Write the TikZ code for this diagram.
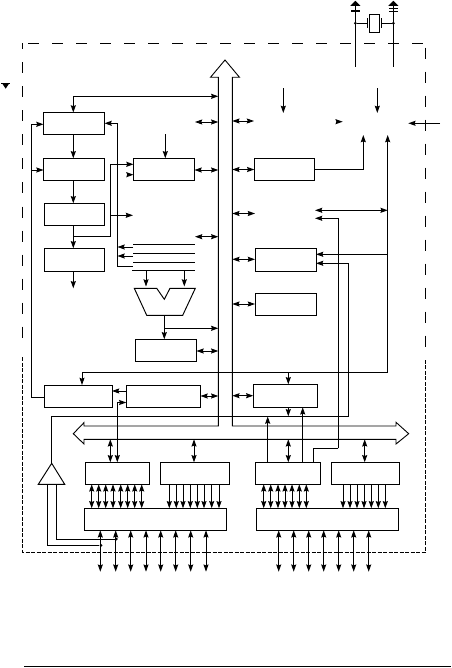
\documentclass[tikz,border=0pt]{standalone}
\usetikzlibrary{arrows.meta}
\newcommand{\bx}[5]{\node[box,minimum width={(#4-#2)*1pt},minimum height={(#5-#3)*1pt}] (#1) at ({(#2+#4)/2},{(#3+#5)/2}) {};}
\tikzset{
  tip/.tip={Stealth[length=7.2pt,width=5pt,inset=0.9pt]},
  box/.style={draw,line width=0.95pt,inner sep=0pt,outer sep=0pt,fill=white},
  wire/.style={line width=0.95pt},
  ar/.style={wire,-tip},
  da/.style={wire,tip-tip},
  frameA/.style={line width=0.85pt,dash pattern=on 11pt off 13pt},
  frameB/.style={line width=0.85pt,dash pattern=on 4pt off 1.5pt},
  bus/.style={line width=0.9pt,line join=miter,fill=white},
  dot/.style={circle,fill=black,inner sep=0pt,minimum size=3pt},
  thick bar/.style={line width=1.5pt}
}
\begin{document}
\begin{tikzpicture}[x=1pt,y=-1pt]
\useasboundingbox (0,0) rectangle (451,668);
\fill[white] (0,0) rectangle (451,668);
% frame
\draw[frameA] (28,43.5) -- (425.5,43.5);
\draw[frameA,dash phase=5pt] (22.5,43.5) -- (22.5,345);
\draw[frameB] (22.5,357) -- (22.5,552) -- (425.5,552) -- (425.5,360);
\draw[frameA] (425.5,47.7) -- (425.5,347);
% bottom rule
\draw[line width=1.6pt] (24,666.5) -- (451,666.5);
% bus
\draw[bus] (218.3,77.3) -- (218.3,426) -- (84,426) -- (84,422.6) -- (73.3,433.7) -- (84,444) -- (84,439.3)
  -- (396,439.3) -- (396,444) -- (408.7,433.7) -- (396,422.3) -- (396,426) -- (232.3,426) -- (232.3,77.3)
  -- (239.5,77.3) -- (225,60) -- (210.5,77.3) -- cycle;
\coordinate (busL) at (218.3,250);
\coordinate (busR) at (232.3,250);
\coordinate (busT) at (300,426);
\coordinate (busB) at (300,439.3);
% boxes
\bx{b1}{43.5}{112.5}{104.5}{134.5}
\bx{b2}{43.5}{158.3}{104}{180.5}
\bx{b3}{44}{203.3}{104.5}{225.5}
\bx{b4}{44}{248.3}{104.5}{271.3}
\bx{b5}{133.5}{158.3}{194.5}{180.7}
\bx{b6}{254.3}{158.3}{314.3}{180.5}
\bx{b7}{255}{248.3}{316}{271.3}
\bx{b8}{255}{293.3}{316}{315.7}
\bx{b9}{135}{339.3}{196.5}{361.3}
\bx{b10}{44.3}{385}{112}{407.3}
\bx{b11}{126.3}{385}{200.5}{407.3}
\bx{b12}{253.3}{384.3}{317.7}{407.3}
\bx{p1}{85}{462.3}{149.3}{484.3}
\bx{p2}{160.3}{462.3}{229}{484.3}
\bx{p3}{255}{462.3}{320.3}{484.3}
\bx{p4}{331}{462.3}{399.3}{484.3}
\bx{d1}{84.3}{508.3}{226.7}{530.3}
\bx{d2}{256.3}{508.3}{398}{530.3}
% triangle
\coordinate (trT) at (51.7,463.3);
\coordinate (trL) at (47.7,484.3);
\coordinate (trR) at (56.7,484.3);
\draw[wire,line join=miter] (trT) -- (64.7,484.3) -- (38.3,484.3) -- cycle;
% ALU
\draw[wire,line join=miter] (134.3,288.3) -- (156.7,288.3) -- (164.3,299.3) -- (170,288.3) -- (195.3,288.3) -- (182.7,315.3) -- (146.7,315.3) -- cycle;
\coordinate (aluB) at (164.3,315.3);
\coordinate (aluA) at (146,286.5);
\coordinate (aluC) at (184.3,286.5);
% register lines
\coordinate (r1l) at (133,244.3); \coordinate (r1r) at (194.7,244.3);
\coordinate (r2l) at (133,253.3); \coordinate (r2r) at (194.7,253.3);
\coordinate (r3l) at (133,262.3); \coordinate (r3r) at (194.7,262.3);
\coordinate (r4l) at (132,270.3); \coordinate (r4r) at (194.7,270.3);
\draw[wire] (r1l) -- (r1r); \draw[wire] (r2l) -- (r2r); \draw[wire] (r3l) -- (r3r); \draw[wire] (r4l) -- (r4r);
\draw[ar] (aluA |- r4l) -- (aluA);
\draw[ar] (aluC |- r4l) -- (aluC);
\draw[ar] (aluB) -- (aluB |- b9.north);
\draw[ar] (164.3,328.3) -- (busL |- 0,328.3);
% left column
\draw[da] (busL |- 0,96.3) -- (73.3,96.3) -- (73.3,0 |- b1.north);
\draw[ar] (73.3,0 |- b1.south) -- (73.3,0 |- b2.north);
\draw[ar] (73.3,0 |- b2.south) -- (73.3,0 |- b3.north);
\draw[ar] (73.3,0 |- b3.south) -- (73.3,0 |- b4.north);
\draw[ar] (73.3,0 |- b4.south) -- (73.3,288.3);
\draw[ar] (73.3,236.3) -- (110.3,236.3) -- (110.3,164.3) -- (b5.west |- 0,164.3);
\draw[ar] (110.3,215.3) -- (133,215.3);
\draw[ar] (127,174.7) -- (b5.west |- 0,174.7);
\draw[ar] (b10.west |- 0,397.3) -- (31.3,397.3) -- (31.3,124.3) -- (b1.west |- 0,124.3);
\draw[ar] (31.3,170) -- (b2.west |- 0,170);
\draw[ar] (132.5,266.3) -- (117.3,266.3) -- (117.3,123.3) -- (b1.east |- 0,123.3);
\draw[ar] (r1l |- 0,247) -- (117.5,247);
\draw[ar] (r1l |- 0,256) -- (117.5,256);
\draw[ar] (165.3,0 |- b1.south) -- (165.3,0 |- b5.north);
% bus doubles, left side
\draw[da] (195,122) -- (busL |- 0,122);
\draw[da] (b5.east |- 0,170) -- (busL |- 0,170);
\draw[da] (195,236.7) -- (busL |- 0,236.7);
\draw[da] (b9.east |- 0,351) -- (busL |- 0,351);
\draw[da] (b11.east |- 0,396) -- (busL |- 0,396);
% bus doubles, right side
\draw[da] (busR |- 0,121) -- (254,121);
\draw[da] (busR |- 0,169.5) -- (b6.west |- 0,169.5);
\draw[da] (busR |- 0,213.5) -- (255,213.5);
\draw[da] (busR |- 0,259.3) -- (b7.west |- 0,259.3);
\draw[da] (busR |- 0,304) -- (b8.west |- 0,304);
\draw[da] (busR |- 0,395.7) -- (b12.west |- 0,395.7);
% top right arrows
\draw[ar] (283.3,88.3) -- (283.3,113);
\draw[ar] (377.3,88.3) -- (377.3,113);
\draw[ar] (337,121.7) -- (342.7,121.7);
\draw[ar] (440,123.3) -- (408.3,123.3);
\draw[ar] (b6.east |- 0,169.3) -- (363.3,169.3) -- (363.3,135);
% right rail
\draw[ar] (288.3,372.3) -- (288.3,0 |- b12.north);
\draw[ar] (387.7,372.3) -- (82,372.3) -- (82,0 |- b10.north);
\draw[ar] (387.7,372.3) -- (387.7,135);
\draw[ar] (387.7,254.3) -- (b7.east |- 0,254.3);
\draw[da] (315,210.3) -- (387.7,210.3);
\draw[ar] (338.3,448.3) -- (338.3,218.3) -- (315,218.3);
\draw[wire] (338.3,448.3) -- (313.3,448.3) -- (313.3,0 |- p3.north);
% B10 / B11
\draw[ar] (b11.west |- 0,391) -- (b10.east |- 0,391);
\draw[ar] (117.3,440) -- (117.3,402.5) -- (b11.west |- 0,402.5);
\draw[ar] (117.3,440) -- (117.3,0 |- p1.north);
\draw[da] (110.3,0 |- busB) -- (110.3,0 |- p1.north);
\draw[da] (194,0 |- busB) -- (194,0 |- p2.north);
\draw[da] (288.3,0 |- busB) -- (288.3,0 |- p3.north);
\draw[da] (364.7,0 |- busB) -- (364.7,0 |- p4.north);
% B12 lower
\draw[ar] (288.3,0 |- b12.south) -- (288.3,416.3);
\draw[ar] (302.7,0 |- p3.north) -- (302.7,0 |- b12.south);
\draw[ar] (267.7,0 |- p3.north) -- (267.7,416.5);
% long feedback to triangle
\draw[ar] (trT) -- (51.7,416.3) -- (348.3,416.3) -- (348.3,263.3) -- (b7.east |- 0,263.3);
% triangle stems
\node[dot] (j1) at (101,545.3) {};
\node[dot] (j2) at (116.3,539) {};
\draw[wire] (trL) -- (47.7,545.3) -- (j1);
\draw[wire] (trR) -- (56.7,539) -- (j2);
% port to driver arrows
\foreach \x in {91.7,98.7,105.7,113,120.7,127.7,134.7,141.7}
  \draw[da] (\x,0 |- p1.south) -- (\x,0 |- d1.north);
\foreach \x in {169.3,176.3,183,190.3,197.3,204,211.7,219}
  \draw[ar] (\x,0 |- p2.south) -- (\x,0 |- d1.north);
\foreach \x in {263.7,270.7,278,285,292,299.3,306.3}
  \draw[da] (\x,0 |- p3.south) -- (\x,0 |- d2.north);
\foreach \x in {343,350,357,364,371.3,378.3,385.3}
  \draw[ar] (\x,0 |- p4.south) -- (\x,0 |- d2.north);
% pins
\foreach \x in {100.3,115.7,130.7,146,160.7,175.7,190.7,206}
  \draw[da] (\x,0 |- d1.south) -- (\x,571.7);
\foreach \x in {278.7,293.7,308.7,323.7,338.7,353.7,368.7}
  \draw[da] (\x,0 |- d2.south) -- (\x,571.7);
% crystal
\node[dot] (xl) at (355.3,23.3) {};
\node[dot] (xr) at (393.3,23.3) {};
\coordinate (pwrL) at (355.3,5);
\coordinate (pwrR) at (393.3,5);
\draw[wire] (pwrL) -- (355.3,66.7);
\draw[wire] (pwrR) -- (393.3,66.7);
\fill (350.3,5.8) -- (355.3,0.8) -- (360.3,5.8) -- cycle;
\fill (388.3,5.8) -- (393.3,0.8) -- (398.3,5.8) -- cycle;
\draw[thick bar] (351,10.8) -- (360,10.8);
\draw[wire] (389,8.5) -- (398,8.5);
\draw[wire] (389,11.3) -- (398,11.3);
\node[box,fill=none,minimum width=10pt,minimum height=18.5pt] (xt) at (374.3,23.3) {};
\draw[wire] (367,18.5) -- (367,28.5);
\draw[wire] (381.5,18.5) -- (381.5,28.5);
\draw[wire] (xl) -- (367,23.3);
\draw[wire] (381.5,23.3) -- (xr);
% ground mark
\draw[thick bar] (1,83.5) -- (10,83.5);
\fill (2.5,84) -- (8.8,84) -- (5.7,88.7) -- cycle;
\end{tikzpicture}
\end{document}
